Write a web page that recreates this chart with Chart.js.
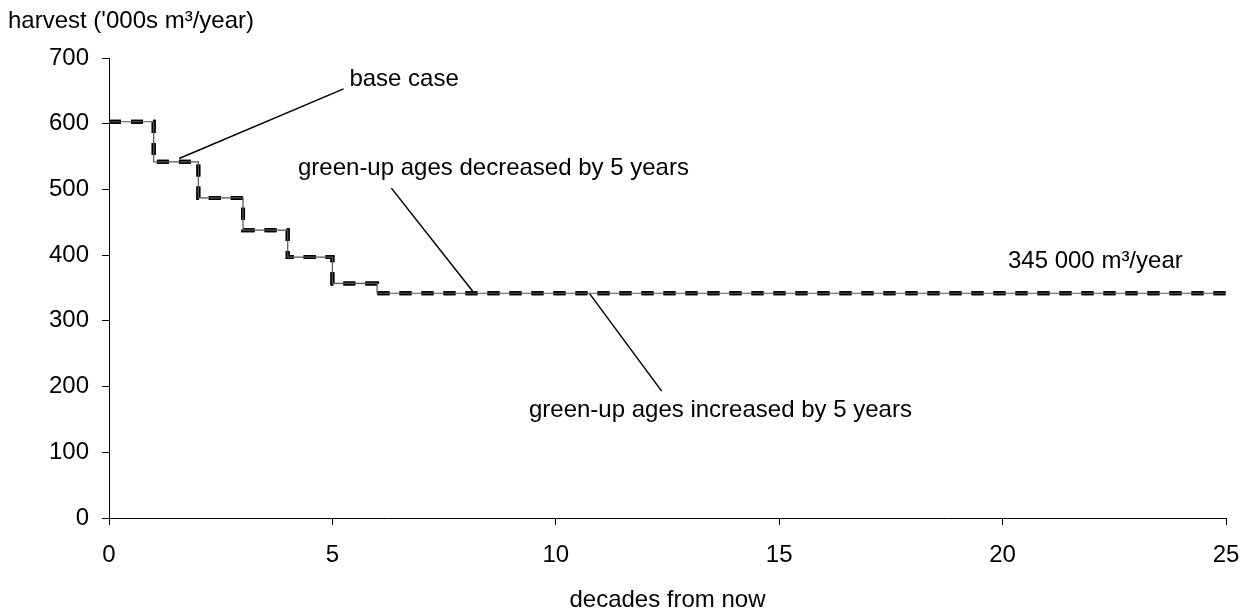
<!DOCTYPE html>
<html>
<head>
<meta charset="utf-8">
<script src="https://cdn.jsdelivr.net/npm/chart.js@4/dist/chart.umd.min.js"></script>
<style>
  body { margin: 0; background: #fff; }
  #wrap { width: 1244px; height: 609px; }
</style>
</head>
<body>
<div id="wrap"><canvas id="harvestChart" width="1244" height="609"></canvas></div>
<script>
// harvest level per decade (value holds from that decade to the next)
const decades = [0, 1, 2, 3, 4, 5, 6, 7, 8, 9, 10, 11, 12, 13, 14, 15, 16, 17, 18, 19, 20, 21, 22, 23, 24, 25];
const baseCase = [603, 542, 487, 438, 397, 357, 342, 342, 342, 342, 342, 342, 342, 342, 342, 342, 342, 342, 342, 342, 342, 342, 342, 342, 342, 342];
const greenUpDecreased = [603, 542, 487, 438, 397, 357, 342, 342, 342, 342, 342, 342, 342, 342, 342, 342, 342, 342, 342, 342, 342, 342, 342, 342, 342, 342];
const greenUpIncreased = [603, 542, 487, 438, 397, 357, 342, 342, 342, 342, 342, 342, 342, 342, 342, 342, 342, 342, 342, 342, 342, 342, 342, 342, 342, 342];

const yTicks = [0, 100, 200, 300, 400, 500, 600, 700];
const xTicks = [0, 5, 10, 15, 20, 25];

const yTitle = "harvest ('000s m³/year)";
const xTitle = 'decades from now';

// callout texts, the baseline-left point of each, and the leader lines (data units)
const labelTexts = ['base case', 'green-up ages decreased by 5 years', 'green-up ages increased by 5 years', '345 000 m³/year'];
const labelAt = [[5.38, 658], [4.23, 522], [9.40, 154], [20.12, 380]];
const leaderFrom = [[5.25, 653], [6.32, 502], [10.76, 341], null];
const leaderTo = [[1.57, 547], [8.14, 345], [12.37, 193], null];

const FONT = '"Liberation Sans", Arial, sans-serif';

function toPoints(values) {
  return decades.map((d, i) => ({ x: d, y: values[i] }));
}

// callouts and axis titles, Chart.js core has no annotation plugin
const calloutPlugin = {
  id: 'callouts',
  afterDraw(chart) {
    let ctx = chart.ctx;
    let xs = chart.scales.x;
    let ys = chart.scales.y;
    let area = chart.chartArea;
    ctx.save();
    ctx.strokeStyle = '#000';
    ctx.lineWidth = 1.5;
    ctx.fillStyle = '#000';
    ctx.font = '24px ' + FONT;
    ctx.textBaseline = 'alphabetic';
    for (let i = 0; i < labelTexts.length; i++) {
      if (leaderFrom[i]) {
        ctx.beginPath();
        ctx.moveTo(xs.getPixelForValue(leaderFrom[i][0]), ys.getPixelForValue(leaderFrom[i][1]));
        ctx.lineTo(xs.getPixelForValue(leaderTo[i][0]), ys.getPixelForValue(leaderTo[i][1]));
        ctx.stroke();
      }
      ctx.textAlign = 'left';
      ctx.fillText(labelTexts[i], xs.getPixelForValue(labelAt[i][0]), ys.getPixelForValue(labelAt[i][1]));
    }
    // y title sits above the axis, x title at the very bottom
    ctx.textAlign = 'left';
    ctx.fillText(yTitle, 8, 28);
    ctx.textAlign = 'center';
    ctx.fillText(xTitle, (area.left + area.right) / 2, chart.height - 2);
    ctx.restore();
  }
};

let ctx = document.getElementById('harvestChart').getContext('2d');

let chart = new Chart(ctx, {
  type: 'line',
  data: {
    datasets: [{
      label: 'base case',
      data: toPoints(baseCase),
      stepped: 'before',
      borderColor: '#555',
      borderWidth: 1.2,
      pointRadius: 0,
      fill: false
    }, {
      label: 'green-up ages decreased by 5 years',
      data: toPoints(greenUpDecreased),
      stepped: 'before',
      borderColor: '#000',
      borderWidth: 4,
      borderDash: [12, 10],
      borderCapStyle: 'butt',
      pointRadius: 0,
      fill: false
    }, {
      label: 'green-up ages increased by 5 years',
      data: toPoints(greenUpIncreased),
      stepped: 'before',
      borderColor: '#000',
      borderWidth: 4,
      borderDash: [12, 10],
      borderCapStyle: 'butt',
      pointRadius: 0,
      fill: false
    }]
  },
  options: {
    responsive: false,
    animation: false,
    layout: { padding: { left: 0, right: 18, top: 58, bottom: 0 } },
    plugins: {
      legend: { display: false },
      tooltip: { enabled: false },
      title: { display: false }
    },
    scales: {
      x: {
        type: 'linear',
        min: 0,
        max: 25,
        afterBuildTicks: axis => { axis.ticks = xTicks.map(v => ({ value: v })); },
        afterFit: axis => {
          axis.height = 91;
          // the end labels may hang over, the layout padding already leaves room
          axis.paddingLeft = 0;
          axis.paddingRight = 0;
        },
        ticks: { color: '#000', font: { family: FONT, size: 24 }, padding: 16, maxRotation: 0 },
        grid: { drawOnChartArea: false, tickLength: 7, color: '#000' },
        border: { display: true, color: '#000', width: 1 }
      },
      y: {
        min: 0,
        max: 700,
        afterBuildTicks: axis => { axis.ticks = yTicks.map(v => ({ value: v })); },
        afterFit: axis => { axis.width = 109; },
        ticks: { color: '#000', font: { family: FONT, size: 24 }, padding: 13 },
        grid: { drawOnChartArea: false, tickLength: 7, color: '#000' },
        border: { display: true, color: '#000', width: 1 }
      }
    }
  },
  plugins: [calloutPlugin]
});
</script>
</body>
</html>
